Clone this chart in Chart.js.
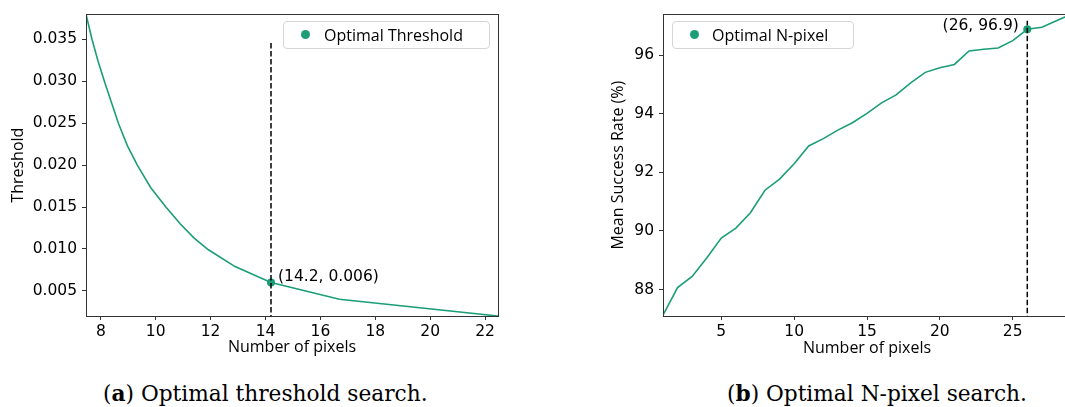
<!DOCTYPE html>
<html lang="en">
<head>
<meta charset="UTF-8">
<title>Optimal threshold and N-pixel search</title>
<script src="https://cdn.jsdelivr.net/npm/chart.js@4.4.1/dist/chart.umd.min.js"></script>
<style>
    html, body { margin: 0; padding: 0; background: #fff; }
    #wrap { position: relative; width: 1065px; height: 407px; overflow: hidden; }
    .plot { position: absolute; top: 0; }
    .legend { position: absolute; top: 21px; height: 28px; box-sizing: border-box; border: 1px solid #d6d6d6; border-radius: 4px; background: rgba(255,255,255,0.8); font-family: "Open Sans"; font-size: 16px; color: #000; }
    .legend .dot { position: absolute; top: 8px; width: 9px; height: 9px; border-radius: 50%; background: #1b9e77; }
    .legend .txt { position: absolute; top: 0; line-height: 26px; white-space: nowrap; }
    .caption { position: absolute; top: 380px; font-family: "DejaVu Serif"; font-size: 21.7px; line-height: 28px; white-space: nowrap; color: #000; }
</style>
</head>
<body>
<div id="wrap">
    <canvas id="threshChart" class="plot" style="left:0px" width="520" height="360"></canvas>
    <canvas id="pixelChart" class="plot" style="left:600px" width="475" height="360"></canvas>

    <div class="legend" style="left:283px; width:207px;">
        <span class="dot" style="left:17px"></span><span class="txt" style="left:40px">Optimal Threshold</span>
    </div>
    <div class="legend" style="left:672px; width:182px;">
        <span class="dot" style="left:17px"></span><span class="txt" style="left:39px">Optimal N-pixel</span>
    </div>

    <div class="caption" style="left:103px">(<b>a</b>) Optimal threshold search.</div>
    <div class="caption" style="left:727px">(<b>b</b>) Optimal N-pixel search.</div>
</div>

<script>
    // (a) threshold vs number of pixels
    var threshPixels = [7.46, 7.68, 7.9, 8.15, 8.64, 8.97, 9.33, 9.82, 10.37, 10.89, 11.4, 11.92, 12.89, 14.2, 16.69, 22.47];
    var threshValues = [0.0380, 0.0350, 0.0324, 0.0298, 0.0250, 0.0223, 0.0200, 0.0173, 0.0150, 0.0130, 0.0113, 0.0099, 0.0079, 0.0060, 0.0040, 0.0020];
    var threshBest = {x: 14.2, y: 0.006};
    var threshXTicks = [8, 10, 12, 14, 16, 18, 20, 22];
    var threshYTicks = [0.005, 0.010, 0.015, 0.020, 0.025, 0.030, 0.035];

    // (b) mean success rate vs number of pixels
    var nPixels = [1, 2, 3, 4, 5, 6, 7, 8, 9, 10, 11, 12, 13, 14, 15, 16, 17, 18, 19, 20, 21, 22, 23, 24, 25, 26, 27, 28, 29];
    var successRate = [87.13, 88.07, 88.45, 89.08, 89.76, 90.10, 90.62, 91.39, 91.77, 92.29, 92.90, 93.15, 93.44, 93.69, 94.01,
                       94.37, 94.64, 95.05, 95.41, 95.57, 95.68, 96.14, 96.20, 96.24, 96.49, 96.88, 96.95, 97.17, 97.39];
    var pixelBest = {x: 26, y: 96.88};
    var pixelXTicks = [5, 10, 15, 20, 25];
    var pixelYTicks = [88, 90, 92, 94, 96];

    var green = '#1b9e77';
    var tickFont = {family: 'DejaVu Sans', size: 15.5};
    var titleFont = {family: 'Open Sans', size: 16};

    function toPoints(xs, ys) {
        return xs.map(function (x, i) { return {x: x, y: ys[i]}; });
    }

    // matplotlib-like box around the plot area
    var framePlugin = {
        id: 'frame',
        afterDatasetsDraw: function (chart) {
            var a = chart.chartArea, ctx = chart.ctx;
            ctx.save();
            ctx.strokeStyle = '#333';
            ctx.lineWidth = 1;
            ctx.strokeRect(Math.round(a.left) + 0.5, Math.round(a.top) + 0.5,
                Math.round(a.right - a.left), Math.round(a.bottom - a.top));
            ctx.restore();
        }
    };

    // "(x, y)" text next to the optimum point
    var pointLabelPlugin = {
        id: 'pointLabel',
        afterDatasetsDraw: function (chart, args, opts) {
            var ctx = chart.ctx;
            ctx.save();
            ctx.font = '15.5px "DejaVu Sans"';
            ctx.fillStyle = '#000';
            ctx.textAlign = opts.align;
            ctx.textBaseline = 'middle';
            ctx.fillText(opts.text,
                chart.scales.x.getPixelForValue(opts.x) + opts.dx,
                chart.scales.y.getPixelForValue(opts.y) + opts.dy);
            ctx.restore();
        }
    };

    function axis(min, max, ticks, title, fixed, isX, fmt, titlePad) {
        return {
            type: 'linear',
            min: min,
            max: max,
            afterBuildTicks: function (scale) {
                scale.ticks = ticks.map(function (v) { return {value: v}; });
            },
            afterFit: function (scale) {
                if (isX) scale.height = fixed; else scale.width = fixed;
            },
            grid: {display: true, drawOnChartArea: false, drawTicks: true, tickLength: 4, color: '#333', lineWidth: 1},
            border: {display: false},
            ticks: {
                color: '#000',
                font: tickFont,
                padding: isX ? 3 : 5,
                maxRotation: 0,
                autoSkip: false,
                callback: fmt
            },
            title: {display: true, text: title, color: '#000', font: titleFont, padding: titlePad}
        };
    }

    function makeChart(id, lineData, best, xScale, yScale, vTop, label, padRight) {
        var ctx = document.getElementById(id).getContext('2d');
        return new Chart(ctx, {
            type: 'scatter',
            data: {
                datasets: [
                    {
                        data: [{x: best.x, y: yScale.min - 1}, {x: best.x, y: vTop}],
                        showLine: true,
                        borderColor: '#000',
                        borderWidth: 1.5,
                        borderDash: [5.5, 2.5],
                        pointRadius: 0,
                        order: 0
                    },
                    {
                        data: [best],
                        backgroundColor: green,
                        borderColor: green,
                        pointRadius: 4,
                        borderWidth: 0,
                        order: 1
                    },
                    {
                        data: lineData,
                        showLine: true,
                        borderColor: green,
                        borderWidth: 1.6,
                        pointRadius: 0,
                        tension: 0,
                        order: 2
                    }
                ]
            },
            options: {
                responsive: false,
                animation: false,
                devicePixelRatio: 1,
                layout: {padding: {top: 12, right: padRight, left: 0, bottom: 0}},
                plugins: {
                    legend: {display: false},
                    tooltip: {enabled: false},
                    pointLabel: label
                },
                scales: {x: xScale, y: yScale}
            },
            plugins: [framePlugin, pointLabelPlugin]
        });
    }

    makeChart('threshChart', toPoints(threshPixels, threshValues), threshBest,
        axis(7.46, 22.47, threshXTicks, 'Number of pixels', 44, true, function (v) { return v; }, {top: 0, bottom: 3}),
        axis(0.0020, 0.0380, threshYTicks, 'Threshold', 86, false, function (v) { return v.toFixed(3); }, {top: 9, bottom: 0}),
        0.0347,
        {text: '(14.2, 0.006)', x: threshBest.x, y: threshBest.y, dx: 7, dy: -5.4, align: 'left'},
        22);

    makeChart('pixelChart', toPoints(nPixels, successRate), pixelBest,
        axis(1, 29, pixelXTicks, 'Number of pixels', 44, true, function (v) { return v; }, {top: 0, bottom: 1.5}),
        axis(87.1, 97.39, pixelYTicks, 'Mean Success Rate (%)', 63, false, function (v) { return v; }, {top: 9, bottom: 0}),
        97.17,
        {text: '(26, 96.9)', x: pixelBest.x, y: pixelBest.y, dx: -8.5, dy: -3.3, align: 'right'},
        0);
</script>
</body>
</html>
